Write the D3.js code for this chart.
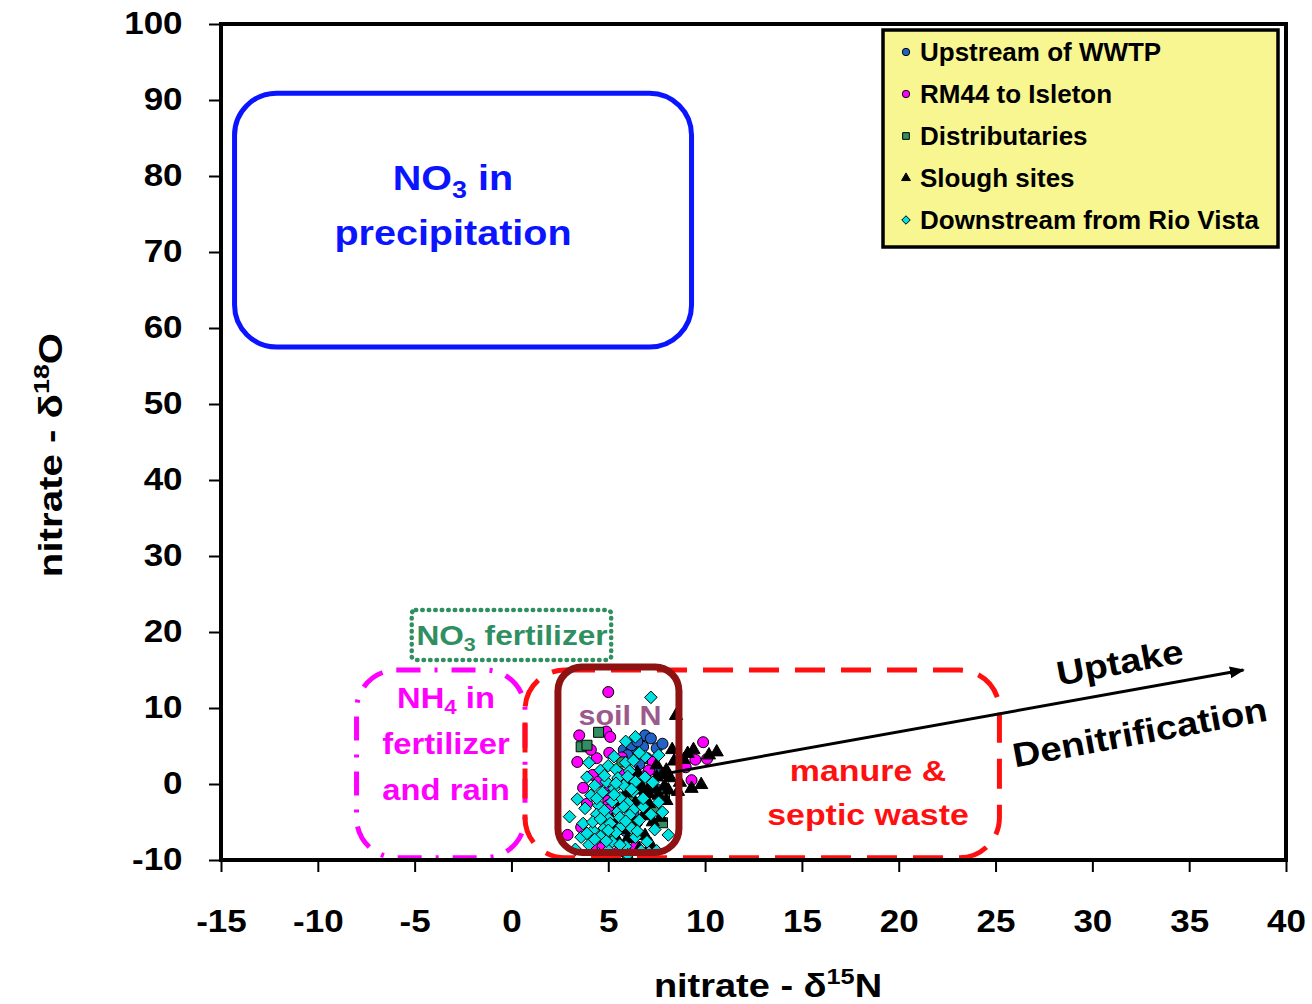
<!DOCTYPE html>
<html>
<head>
<meta charset="utf-8">
<script src="https://cdn.jsdelivr.net/npm/d3@7"></script>
<style>
  body { margin: 0; background: #fff; }
  text { font-family: "Liberation Sans", Arial, sans-serif; font-weight: bold; }
</style>
</head>
<body>
<div id="chart"></div>
<script>
// data: [d15N, d18O]
const upstream = [[5.8,4.5],[6.2,4.7],[6.2,5.1],[6.9,6.4],[6.8,4.9],[7.5,4.7],[7.2,6.0],[6.5,5.6],[7.8,5.3],[6.0,3.8],[7.0,3.4],[6.6,2.6],[7.4,1.9],[5.5,0.5],[6.9,-1.5],[7.6,-0.8],[6.3,-3.8],[5.9,-6.2]]
const rm44 = [[3.5,6.4],[3.4,2.9],[5.0,12.1],[4.9,6.9],[5.1,6.2],[5.05,4.1],[4.4,3.4],[4.2,1.2],[3.7,-0.5],[3.6,-5.7],[2.9,-6.7],[4.3,-8.3],[4.7,-8.3],[6.4,-8.3],[7.3,2.9],[7.1,1.8],[9.9,5.5],[9.5,3.2],[10.1,3.3],[9.0,2.2],[9.3,0.5],[5.0,-1.0],[5.0,-1.6],[5.0,-2.2],[5.0,-2.8],[5.0,-3.4],[4.5,0.3],[5.6,1.4],[3.9,-2.6],[6.5,-5.0],[4.8,-6.5],[5.5,-9.0],[6.8,1.0],[4.1,4.5],[5.7,3.5]]
const distributaries = [[3.6,4.9],[3.9,5.1],[4.5,6.8],[5.7,2.9],[7.8,-5.1],[6.1,-2.0],[7.4,-3.2],[6.6,0.5],[5.2,-7.5],[7.9,-1.2],[6.0,-9.5]]
const slough = [[8.3,4.5],[9.4,4.5],[10.6,4.2],[9.8,-0.1],[8.7,0.2],[7.5,2.5],[7.8,1.2],[8.2,0.8],[7.2,0.0],[6.8,-0.8],[7.6,-1.5],[6.4,-2.5],[7.0,-3.5],[8.0,-2.2],[6.2,-4.5],[7.3,-5.0],[5.8,-6.0],[6.9,-6.8],[5.5,-7.5],[6.6,-8.5],[8.4,3.0],[7.9,-0.3],[6.5,1.5],[5.9,-1.2],[8.6,-1.0],[9.1,4.0],[7.1,-2.6],[6.0,0.4],[10.2,3.8],[8.9,3.2],[5.2,-4.8],[8.5,9.0],
  [6.7,-0.2],[7.4,-0.6],[6.1,-3.1],[6.8,-4.2],[7.7,-4.4],[5.6,-2.9],[6.3,-5.3],[7.1,-1.3],[8.1,-0.8],[7.5,0.9],[5.4,-5.6],[6.0,-7.2],[7.2,-8.0],[8.0,1.8],[9.3,-0.6]]
const downstream = [[7.2,11.4],[6.4,6.2],[6.9,3.6],[6.3,-1.0],[6.8,-3.0],[6.3,-3.4],[8.1,-6.7],[7.1,-9.0],[3.0,-4.3],[5.2,-7.6],
  [4.6,1.8],[5.0,2.4],[5.4,1.9],[5.9,2.8],[6.3,3.1],[6.1,1.7],[5.5,0.8],[4.9,0.3],[4.3,-0.2],[4.7,-1.1],
  [5.3,-0.6],[5.8,-0.2],[6.4,0.3],[6.9,0.9],[7.3,0.2],[5.6,-1.8],[6.0,-2.5],[5.2,-2.3],[4.5,-2.8],[4.1,-1.5],
  [3.8,-3.2],[4.4,-4.0],[5.0,-4.5],[5.5,-3.6],[6.1,-4.1],[6.6,-4.8],[7.2,-4.0],[7.6,-2.4],[5.7,-5.5],[4.8,-5.8],
  [4.2,-6.1],[3.6,-7.0],[4.0,-8.0],[5.0,-8.7],[5.9,-8.2],[6.4,-7.0],[7.0,-7.6],[3.4,-2.0],[3.9,0.9],[5.3,3.6],
  [6.6,4.1],[7.6,3.8],[4.6,-6.9],[5.4,-6.4],[6.2,-5.8],[7.4,-6.0],[3.3,-8.6],[4.5,-9.2],[6.0,-9.3],[7.5,-8.8],
  [4.0,2.8],[5.9,5.6],[3.7,-5.2],[6.8,-1.9],[7.8,-3.7],
  [4.8,-3.5],[5.3,-1.4],[5.8,-3.0],[4.4,-1.9],[5.1,-5.2],[5.6,-4.4],[4.9,-7.5],[5.6,-8.0],[4.2,-5.0],[6.5,-6.2],
  [5.9,-4.9],[4.6,-4.6],[5.4,0.1],[6.2,-0.7],[4.8,1.1],[6.0,1.0],[5.0,-6.1],[3.9,-6.5],[6.7,-8.8],[4.3,-7.3]]

const seriesNames = ['Upstream of WWTP', 'RM44 to Isleton', 'Distributaries', 'Slough sites', 'Downstream from Rio Vista']
const xTicks = [-15, -10, -5, 0, 5, 10, 15, 20, 25, 30, 35, 40]
const yTicks = [-10, 0, 10, 20, 30, 40, 50, 60, 70, 80, 90, 100]

// excel style diamond: a square turned 45 degrees
const diamond = {
  draw(context, size) {
    const r = Math.sqrt(size / 2)
    context.moveTo(0, -r)
    context.lineTo(r, 0)
    context.lineTo(0, r)
    context.lineTo(-r, 0)
    context.closePath()
  }
}

const series = [
  { name: seriesNames[0], data: upstream, symbol: d3.symbolCircle, size: 95, fill: '#2261c6' },
  { name: seriesNames[1], data: rm44, symbol: d3.symbolCircle, size: 95, fill: '#ff00ff' },
  { name: seriesNames[2], data: distributaries, symbol: d3.symbolSquare, size: 100, fill: '#2f8f60' },
  { name: seriesNames[3], data: slough, symbol: d3.symbolTriangle, size: 75, fill: '#000000' },
  { name: seriesNames[4], data: downstream, symbol: diamond, size: 80, fill: '#00e2e2' }
]

const width = 1312
const height = 1004
const sx = 1.13 // the original text is drawn a little wide

const svg = d3.select('#chart')
  .append('svg')
  .attr('width', width)
  .attr('height', height)

const x = d3.scaleLinear().domain([-15, 40]).range([221, 1286])
const y = d3.scaleLinear().domain([-10, 100]).range([860, 24])

// points first, annotation shapes sit on top like in the original
series.forEach((s) => {
  svg.append('g')
    .selectAll('path')
    .data(s.data)
    .join('path')
    .attr('transform', (d) => `translate(${x(d[0])},${y(d[1])})`)
    .attr('d', d3.symbol(s.symbol, s.size))
    .attr('fill', s.fill)
    .attr('stroke', '#000')
    .attr('stroke-width', 1)
})

// source regions, in data units
const regions = [
  { x0: -14.3, x1: 9.3, y0: 57.5, y1: 90.9, r: 42, color: '#0a14ff', w: 5, dash: null },
  { x0: -5.15, x1: 5.15, y0: 16.3, y1: 22.9, r: 4, color: '#2f8f60', w: 4.5, dash: '0.5,6', cap: 'round' },
  { x0: -8.0, x1: 0.7, y0: -9.7, y1: 15.0, r: 40, color: '#ff00ff', w: 5, dash: '24,14,3,14' },
  { x0: 0.7, x1: 25.2, y0: -9.7, y1: 15.0, r: 40, color: '#ff1010', w: 5, dash: '30,16' },
  { x0: 2.4, x1: 8.65, y0: -9.0, y1: 15.4, r: 24, color: '#8e1212', w: 7, dash: null }
]

svg.append('g')
  .selectAll('rect')
  .data(regions)
  .join('rect')
  .attr('x', (d) => x(d.x0))
  .attr('y', (d) => y(d.y1))
  .attr('width', (d) => x(d.x1) - x(d.x0))
  .attr('height', (d) => y(d.y0) - y(d.y1))
  .attr('rx', (d) => d.r)
  .attr('fill', 'none')
  .attr('stroke', (d) => d.color)
  .attr('stroke-width', (d) => d.w)
  .attr('stroke-dasharray', (d) => d.dash)
  .attr('stroke-linecap', (d) => d.cap || 'butt')

// arrow
svg.append('defs')
  .append('marker')
  .attr('id', 'arrow')
  .attr('viewBox', '0 0 10 10')
  .attr('refX', 9)
  .attr('refY', 5)
  .attr('markerWidth', 5)
  .attr('markerHeight', 5)
  .attr('orient', 'auto')
  .append('path')
  .attr('d', 'M0,1 L10,5 L0,9 Z')
  .attr('fill', '#000')

svg.append('line')
  .attr('x1', x(7.6))
  .attr('y1', y(1.2))
  .attr('x2', x(37.8))
  .attr('y2', y(15.0))
  .attr('stroke', '#000')
  .attr('stroke-width', 3)
  .attr('marker-end', 'url(#arrow)')

// frame and axes
svg.append('rect')
  .attr('x', x(-15))
  .attr('y', y(100))
  .attr('width', x(40) - x(-15))
  .attr('height', y(-10) - y(100))
  .attr('fill', 'none')
  .attr('stroke', '#000')
  .attr('stroke-width', 4)

const xAxis = svg.append('g')
  .attr('transform', `translate(0, ${y(-10)})`)
  .call(d3.axisBottom(x).tickValues(xTicks).tickSize(12).tickPadding(38).tickFormat((d) => String(d)))
xAxis.select('.domain').remove()
xAxis.selectAll('line').attr('stroke-width', 2)
xAxis.selectAll('text').attr('font-size', 31).attr('fill', '#000')
  .attr('font-family', '"Liberation Sans", Arial, sans-serif')
  .attr('transform', `scale(${sx},1)`)

const yAxis = svg.append('g')
  .attr('transform', `translate(${x(-15)}, 0)`)
  .call(d3.axisLeft(y).tickValues(yTicks).tickSize(12).tickPadding(22).tickFormat((d) => String(d)))
yAxis.select('.domain').remove()
yAxis.selectAll('line').attr('stroke-width', 2)
yAxis.selectAll('text').attr('font-size', 31).attr('fill', '#000')
  .attr('font-family', '"Liberation Sans", Arial, sans-serif')
  .attr('transform', `scale(${sx},1)`)

// axis titles
const xTitle = svg.append('text')
  .attr('transform', `translate(768, 997) scale(1.15,1)`)
  .attr('text-anchor', 'middle')
  .attr('font-size', 33)
xTitle.append('tspan').text('nitrate - δ')
xTitle.append('tspan').attr('font-size', 22).attr('dy', -13).text('15')
xTitle.append('tspan').attr('dy', 13).text('N')

const yTitle = svg.append('text')
  .attr('transform', 'translate(62, 455) rotate(-90) scale(1.22,1)')
  .attr('text-anchor', 'middle')
  .attr('font-size', 33)
yTitle.append('tspan').text('nitrate - δ')
yTitle.append('tspan').attr('font-size', 22).attr('dy', -13).text('18')
yTitle.append('tspan').attr('dy', 13).text('O')

// region labels; a part given as {sub} is set as a subscript
function label(lines, cx, cy, size, color, lh) {
  lines.forEach((parts, i) => {
    const t = svg.append('text')
      .attr('transform', `translate(${cx}, ${cy + i * lh}) scale(${sx},1)`)
      .attr('text-anchor', 'middle')
      .attr('font-size', size)
      .attr('fill', color)
    let shift = 0
    parts.forEach((p) => {
      if (typeof p === 'object') {
        shift = size * 0.22
        t.append('tspan').attr('font-size', size * 0.68).attr('dy', shift).text(p.sub)
      } else {
        t.append('tspan').attr('dy', -shift).text(p)
        shift = 0
      }
    })
  })
}

label([['NO', { sub: '3' }, ' in'], ['precipitation']], 453, 190, 35, '#0a14ff', 55)
label([['NO', { sub: '3' }, ' fertilizer']], 512, 645, 28, '#2f8f60', 0)
label([['NH', { sub: '4' }, ' in'], ['fertilizer'], ['and rain']], 446, 708, 29, '#ff00ff', 46)
label([['soil N']], 620, 725, 27, '#9c5a8c', 0)
label([['manure &'], ['septic waste']], 868, 781, 30, '#ff1010', 44)

svg.append('text')
  .attr('transform', `translate(1122, 674) rotate(-10.5) scale(${sx},1)`)
  .attr('text-anchor', 'middle')
  .attr('font-size', 34)
  .text('Uptake')

svg.append('text')
  .attr('transform', `translate(1142, 744) rotate(-10.5) scale(${sx},1)`)
  .attr('text-anchor', 'middle')
  .attr('font-size', 34)
  .text('Denitrification')

// legend
const legend = svg.append('g').attr('transform', 'translate(883, 30)')
legend.append('rect')
  .attr('width', 395)
  .attr('height', 217)
  .attr('fill', '#f8f690')
  .attr('stroke', '#000')
  .attr('stroke-width', 3.5)

const legendY = d3.scalePoint().domain(seriesNames).range([22, 190])
series.forEach((s) => {
  const row = legend.append('g').attr('transform', `translate(23, ${legendY(s.name)})`)
  row.append('path')
    .attr('d', d3.symbol(s.symbol, s.size * 0.45))
    .attr('fill', s.fill)
    .attr('stroke', '#000')
    .attr('stroke-width', 1)
  row.append('text')
    .attr('transform', 'translate(14, 9) scale(1.04,1)')
    .attr('font-size', 25)
    .attr('fill', '#000')
    .text(s.name)
})
</script>
</body>
</html>
